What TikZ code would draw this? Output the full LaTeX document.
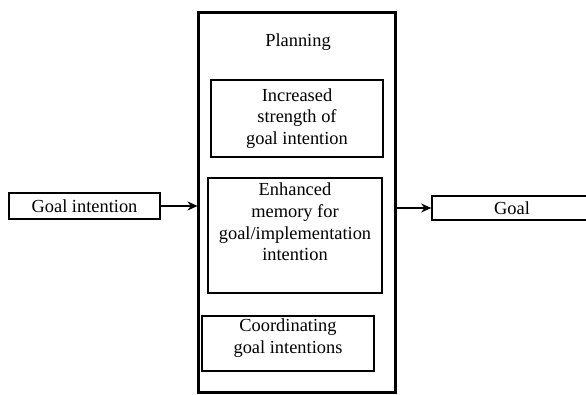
\documentclass[tikz,border=0pt]{standalone}
\usepackage{fontspec}
\setmainfont{Liberation Serif}
\usetikzlibrary{arrows.meta}
\tikzset{
  sidebox/.style={draw, line width=0.8pt, inner sep=0pt},
  inbox/.style={draw, line width=1pt, inner sep=0pt, align=center},
  flow/.style={->, line width=1.2pt}
}
\begin{document}
\begin{tikzpicture}[x=0.5pt, y=-0.5pt, font=\fontsize{9.2}{10.8}\selectfont,
    >={Stealth[length=5pt,width=4.5pt]}]
\useasboundingbox (0,0) rectangle (586,395);

% grosse boite du milieu
\node[draw, line width=1.5pt, minimum width=98.5pt, minimum height=190pt, inner sep=0pt] (planning) at (297.5,203) {};
\node (title) at (298,42) {Planning};

\node[inbox, minimum width=86pt, minimum height=38.5pt] (strength) at (297,118.5) {Increased\\strength of\\goal intention};
\node[inbox, minimum width=87pt, minimum height=57.5pt] (memory) at (295,235.5) {};
\node[align=center] (memorytxt) at (295,222) {Enhanced\\memory for\\goal/implementation\\intention};
\node[inbox, minimum width=86pt, minimum height=27.5pt] (coord) at (288,343.5) {};
\node[align=center] (coordtxt) at (288,338) {Coordinating\\goal intentions};

% entree et sortie
\node[sidebox, minimum width=75.5pt, minimum height=13pt] (goalint) at (84.5,206) {Goal intention};
\node[sidebox, minimum width=80pt, minimum height=12pt] (goal) at (512,208) {Goal};

\draw[flow] (goalint.east) -- (goalint.east -| planning.west);
\draw[flow] (planning.east |- goal.west) -- (goal.west);
\end{tikzpicture}
\end{document}
